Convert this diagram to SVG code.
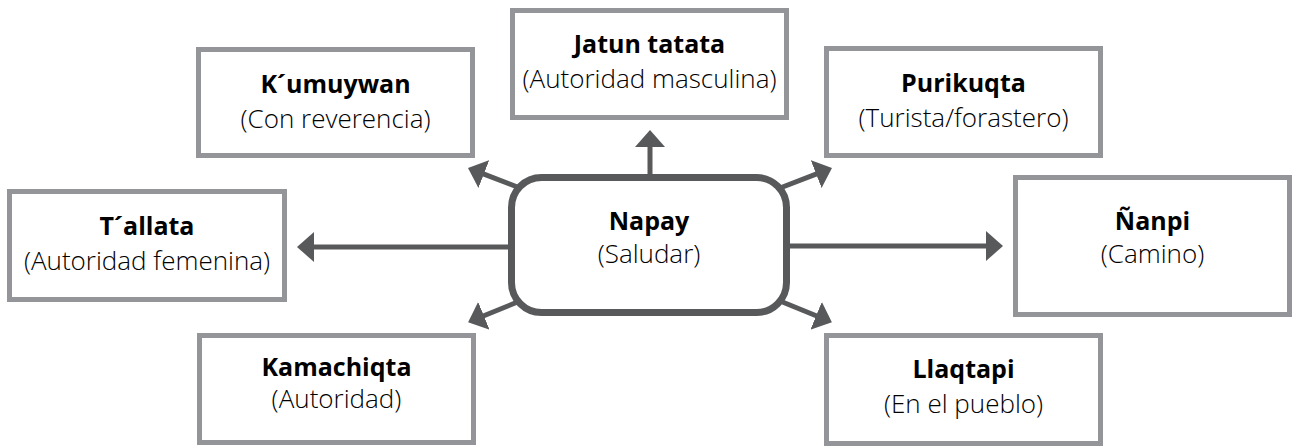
<svg xmlns="http://www.w3.org/2000/svg" width="1293" height="446" viewBox="0 0 1293 446">
<style>
.box{fill:#fff;stroke:#939598;stroke-width:5}
.center{fill:#fff;stroke:#58595b;stroke-width:7}
.conn{stroke:#58595b;stroke-width:5;fill:none}
text{font-family:"Open Sans","Noto Sans",sans-serif;text-anchor:middle;fill:#000}
.t{font-weight:700;font-size:25px}
.s{font-weight:300;font-size:26px}
</style>
<defs>
<marker id="ah" viewBox="0 0 17 30" markerWidth="17" markerHeight="30" refX="2" refY="15" orient="auto" markerUnits="userSpaceOnUse">
<path d="M0,0 L17,15 L0,30 z" fill="#58595b"/>
</marker>
</defs>
<g id="connectors">
<line class="conn" x1="650" y1="180" x2="650" y2="145" marker-end="url(#ah)"/>
<line class="conn" x1="515" y1="247" x2="312" y2="247" marker-end="url(#ah)"/>
<line class="conn" x1="785" y1="246" x2="988" y2="246" marker-end="url(#ah)"/>
<line class="conn" x1="520" y1="188" x2="482" y2="173.3" marker-end="url(#ah)"/>
<line class="conn" x1="780" y1="188" x2="818" y2="173.3" marker-end="url(#ah)"/>
<line class="conn" x1="520" y1="301" x2="482" y2="316.5" marker-end="url(#ah)"/>
<line class="conn" x1="780" y1="301" x2="818" y2="316.5" marker-end="url(#ah)"/>
</g>
<g id="napay">
<rect class="center" x="511.5" y="177.5" width="275" height="135" rx="30"/>
<text class="t" x="649" y="230">Napay</text>
<text class="s" x="649" y="263">(Saludar)</text>
</g>
<g id="jatun">
<rect class="box" x="512.5" y="10.5" width="274" height="107"/>
<text class="t" x="649.5" y="53">Jatun tatata</text>
<text class="s" x="649.5" y="88">(Autoridad masculina)</text>
</g>
<g id="kumuywan">
<rect class="box" x="198.5" y="49.5" width="274" height="106"/>
<text class="t" x="335.5" y="93">K´umuywan</text>
<text class="s" x="335.5" y="128">(Con reverencia)</text>
</g>
<g id="purikuqta">
<rect class="box" x="826.5" y="48.5" width="274" height="107"/>
<text class="t" x="963.5" y="92">Purikuqta</text>
<text class="s" x="963.5" y="127">(Turista/forastero)</text>
</g>
<g id="tallata">
<rect class="box" x="9.5" y="191.5" width="275" height="108"/>
<text class="t" x="147" y="235">T´allata</text>
<text class="s" x="147" y="270">(Autoridad femenina)</text>
</g>
<g id="nanpi">
<rect class="box" x="1015.5" y="177.5" width="274" height="137"/>
<text class="t" x="1152.5" y="230">Ñanpi</text>
<text class="s" x="1152.5" y="263">(Camino)</text>
</g>
<g id="kamachiqta">
<rect class="box" x="199.5" y="335.5" width="274" height="107"/>
<text class="t" x="336.5" y="376">Kamachiqta</text>
<text class="s" x="336.5" y="408">(Autoridad)</text>
</g>
<g id="llaqtapi">
<rect class="box" x="826.5" y="335.5" width="274" height="108"/>
<text class="t" x="963.5" y="378">Llaqtapi</text>
<text class="s" x="963.5" y="413">(En el pueblo)</text>
</g>
</svg>
